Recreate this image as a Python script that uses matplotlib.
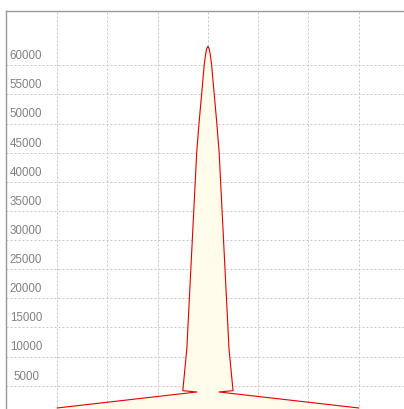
#!/usr/bin/env python3
"""Spike-shaped area chart with inside y labels."""
import matplotlib
matplotlib.use("Agg")
import matplotlib.pyplot as plt
import matplotlib.transforms as mtransforms

plt.rcParams["font.family"] = ["Liberation Sans", "DejaVu Sans"]

# --- outline of the spike (x in grid units, centre = 0) ---
xs = [-3.0, -0.22, -0.50, -0.42, -0.223, -0.175, -0.125, -0.074, -0.048, -0.026, 0.0,
      0.026, 0.048, 0.074, 0.125, 0.175, 0.223, 0.42, 0.50, 0.22, 3.0]
ys = [1170, 3914, 4140, 11300, 45120, 50270, 55070, 60050, 61770, 62800, 63262,
      62800, 61770, 60050, 55070, 50270, 45120, 11300, 4140, 3914, 1170]

y_ticks = [5000, 10000, 15000, 20000, 25000, 30000, 35000, 40000,
           45000, 50000, 55000, 60000]
x_grid = [-3, -2, -1, 0, 1, 2, 3, 4]

fig = plt.figure(figsize=(4.04, 4.10), dpi=100)
ax = fig.add_axes([0.01485, -0.0141, 0.9996, 0.9856])
ax.set_xlim(-4.02, 4.02)
ax.set_ylim(0, 69370)

# fill down to the zero baseline
ax.fill([xs[0]] + xs + [xs[-1]], [0] + ys + [0],
        facecolor="#fffceb", edgecolor="none", zorder=2)
ax.plot(xs, ys, color="#e00000", linewidth=0.8, zorder=3)

ax.set_xticks(x_grid)
ax.set_yticks(y_ticks)
ax.tick_params(left=False, bottom=False, labelleft=False, labelbottom=False)
ax.grid(True, color="#c8c8c8", linewidth=0.72, linestyle=(0, (2, 2)), zorder=1)
ax.set_axisbelow(True)

for side in ("right", "bottom"):
    ax.spines[side].set_visible(False)
for side in ("left", "top"):
    ax.spines[side].set_color("#999999")
    ax.spines[side].set_linewidth(1.0)

# y labels drawn inside the plot, just above each grid line
trans = mtransforms.blended_transform_factory(ax.transAxes, ax.transData)
for v in y_ticks:
    ax.text(0.0495, v + 700, f"{v}", transform=trans, ha="center", va="bottom",
            fontsize=8.3, color="#808080", zorder=4)

fig.savefig("out.png", dpi=100)
